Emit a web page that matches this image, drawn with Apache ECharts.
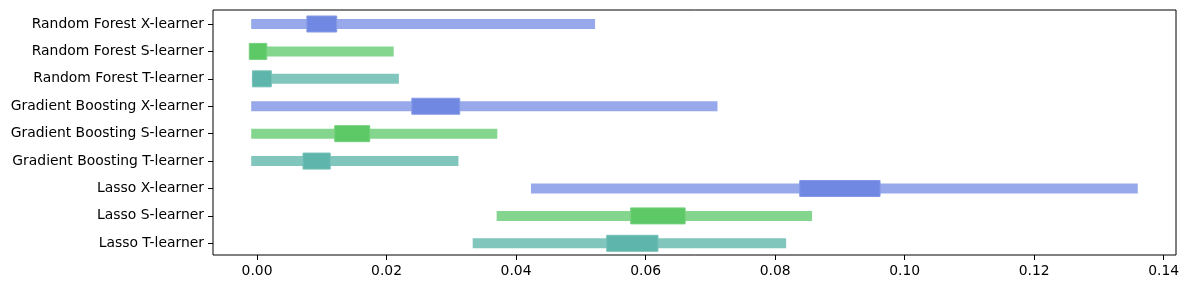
<!DOCTYPE html>
<html>
<head>
<meta charset="utf-8">
<script src="https://cdn.jsdelivr.net/npm/echarts@6/dist/echarts.min.js"></script>
<style>html,body{margin:0;padding:0;background:#fff}#c{width:1189px;height:290px}</style>
</head>
<body>
<div id="c"></div>
<script>
// Categories listed top to bottom
const categories = [
  "Random Forest X-learner",
  "Random Forest S-learner",
  "Random Forest T-learner",
  "Gradient Boosting X-learner",
  "Gradient Boosting S-learner",
  "Gradient Boosting T-learner",
  "Lasso X-learner",
  "Lasso S-learner",
  "Lasso T-learner"
];
const learnerType = ["X", "S", "T", "X", "S", "T", "X", "S", "T"];
const whiskerLow  = [-0.0009, -0.0009, -0.0008, -0.0009, -0.0009, -0.0009, 0.0423, 0.0370, 0.0333];
const whiskerHigh = [0.0522, 0.0211, 0.0219, 0.0711, 0.0371, 0.0311, 0.1360, 0.0857, 0.0817];
const boxLow      = [0.0077, -0.0012, -0.0007, 0.0239, 0.0120, 0.0071, 0.0838, 0.0577, 0.0540];
const boxHigh     = [0.0123, 0.0015, 0.0022, 0.0313, 0.0174, 0.0113, 0.0962, 0.0661, 0.0619];
const xTicks = [0, 0.02, 0.04, 0.06, 0.08, 0.10, 0.12, 0.14];
const yTicks = categories.map((c, i) => i);

const whiskerColor = { X: "#97a9ea", S: "#84d68e", T: "#80c6bd" };
const boxColor     = { X: "#7088e2", S: "#5cc866", T: "#5db5ab" };
const boxEdge      = { X: "#8599e6", S: "#74d07d", T: "#74bfb6" };

function rangeItem(height, fillMap, edgeMap) {
  return function (params, api) {
    const idx = api.value(0);
    const lo = api.coord([api.value(1), idx]);
    const hi = api.coord([api.value(2), idx]);
    const t = learnerType[params.dataIndex];
    const shape = { x: lo[0], y: lo[1] - height / 2, width: hi[0] - lo[0], height: height };
    return {
      type: "rect",
      shape: shape,
      style: {
        fill: fillMap[t],
        stroke: edgeMap ? edgeMap[t] : null,
        lineWidth: edgeMap ? 1 : 0
      }
    };
  };
}

const whiskerData = categories.map((c, i) => [i, whiskerLow[i], whiskerHigh[i]]);
const boxData = categories.map((c, i) => [i, boxLow[i], boxHigh[i]]);

const chart = echarts.init(document.getElementById("c"), null, { renderer: "canvas" });
chart.setOption({
  animation: false,
  grid: {
    left: 213, right: 13, top: 10, bottom: 35,
    show: true, borderColor: "#000", borderWidth: 1, backgroundColor: "transparent"
  },
  xAxis: {
    type: "value",
    min: -0.0068,
    max: 0.1419,
    splitLine: { show: false },
    axisLine: { show: false, onZero: false },
    axisTick: { show: true, length: 5, lineStyle: { color: "#000", width: 1 }, customValues: xTicks },
    axisLabel: {
      customValues: xTicks,
      color: "#000",
      fontFamily: "DejaVu Sans",
      fontSize: 13.9,
      margin: 9,
      formatter: v => v.toFixed(2)
    }
  },
  yAxis: {
    type: "value",
    min: -0.511,
    max: 8.427,
    inverse: true,
    axisLine: { show: false, onZero: false },
    splitLine: { show: false },
    axisTick: { show: true, length: 5, lineStyle: { color: "#000", width: 1 }, customValues: yTicks },
    axisLabel: {
      customValues: yTicks,
      color: "#000",
      fontFamily: "DejaVu Sans",
      fontSize: 13.9,
      margin: 9,
      formatter: v => categories[Math.round(v)]
    }
  },
  series: [
    {
      type: "custom",
      renderItem: rangeItem(10, whiskerColor, null),
      encode: { x: [1, 2], y: 0 },
      data: whiskerData,
      z: 2
    },
    {
      type: "custom",
      renderItem: rangeItem(16, boxColor, boxEdge),
      encode: { x: [1, 2], y: 0 },
      data: boxData,
      z: 3
    }
  ]
});
</script>
</body>
</html>
